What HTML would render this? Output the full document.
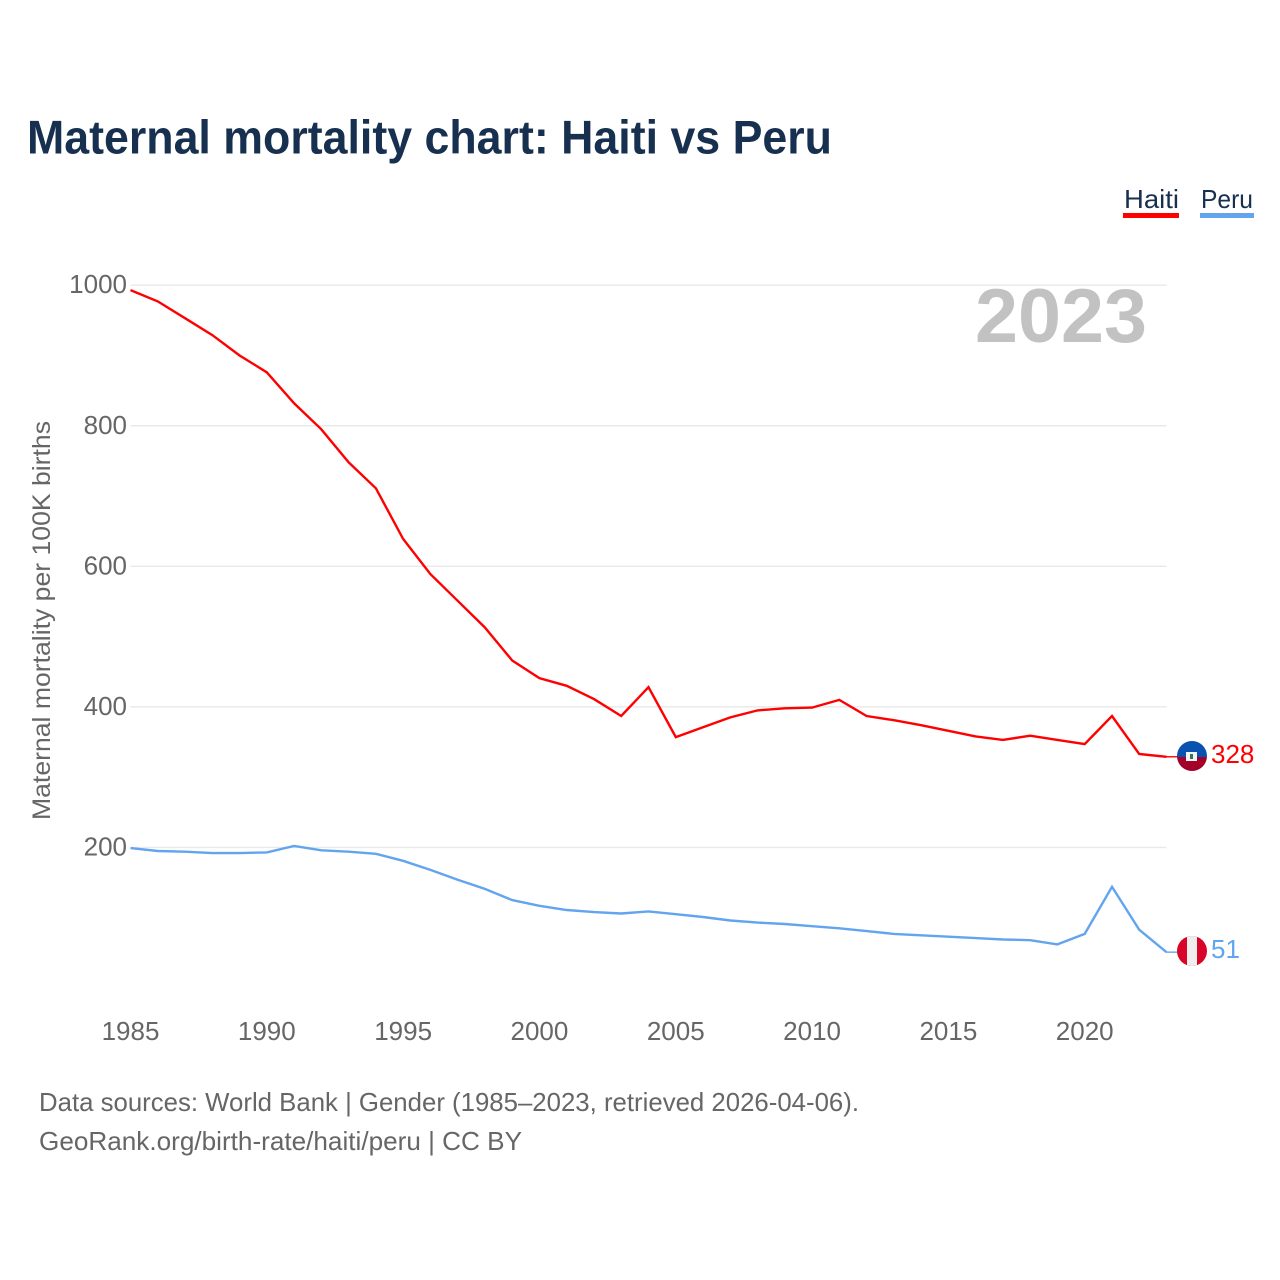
<!DOCTYPE html>
<html lang="en">
<head>
<meta charset="utf-8">
<title>Maternal mortality chart: Haiti vs Peru</title>
<style>
html,body{margin:0;padding:0;background:#fff;width:1280px;height:1280px;overflow:hidden}
svg{display:block;font-family:"Liberation Sans",sans-serif}
</style>
</head>
<body>
<svg id="chart" width="1280" height="1280" viewBox="0 0 1280 1280" xmlns="http://www.w3.org/2000/svg">
  <text x="27" y="153.5" font-size="47" font-weight="700" fill="#17304f" textLength="805" lengthAdjust="spacingAndGlyphs">Maternal mortality chart: Haiti vs Peru</text>

  <g>
    <text x="1124" y="208" font-size="26" fill="#17304f" textLength="55" lengthAdjust="spacingAndGlyphs">Haiti</text>
    <rect x="1123" y="213" width="56" height="5" fill="#ff0000"/>
  </g>
  <g>
    <text x="1201" y="208" font-size="26" fill="#17304f" textLength="52" lengthAdjust="spacingAndGlyphs">Peru</text>
    <rect x="1200" y="213" width="54" height="5" fill="#62a5ee"/>
  </g>

  <g id="grid"></g>
  <g id="yticks"></g>
  <g id="xticks"></g>

  <text transform="translate(50,820) rotate(-90)" font-size="25" fill="#666666" textLength="399" lengthAdjust="spacingAndGlyphs">Maternal mortality per 100K births</text>

  <text x="975" y="342" font-size="76" font-weight="700" fill="#c2c2c2" textLength="172" lengthAdjust="spacingAndGlyphs">2023</text>

  <g id="series"></g>

  <defs>
    <clipPath id="flag-clip-haiti"><circle cx="1192" cy="756" r="15"/></clipPath>
    <clipPath id="flag-clip-peru"><circle cx="1192" cy="951" r="15"/></clipPath>
  </defs>

  <g clip-path="url(#flag-clip-haiti)">
    <rect x="1177" y="741" width="30" height="16" fill="#0a52b0"/>
    <rect x="1177" y="757" width="30" height="15" fill="#a3002a"/>
    <rect x="1186" y="752" width="11" height="9" fill="#f4f4f4"/>
    <rect x="1190" y="754" width="3" height="5" fill="#2f7a4f"/>
  </g>
  <g clip-path="url(#flag-clip-peru)">
    <rect x="1177" y="936" width="30" height="30" fill="#d90429"/>
    <rect x="1187" y="936" width="10" height="30" fill="#eeeeee"/>
  </g>

  <text x="1211" y="763" font-size="26" fill="#ff0000">328</text>
  <text x="1211" y="958" font-size="26" fill="#62a5ee">51</text>

  <text x="39" y="1111" font-size="26" fill="#666666" textLength="820" lengthAdjust="spacingAndGlyphs">Data sources: World Bank | Gender (1985–2023, retrieved 2026-04-06).</text>
  <text x="39" y="1150" font-size="26" fill="#666666" textLength="483" lengthAdjust="spacingAndGlyphs">GeoRank.org/birth-rate/haiti/peru | CC BY</text>
</svg>
<script>
const years = [1985,1986,1987,1988,1989,1990,1991,1992,1993,1994,1995,1996,1997,1998,1999,2000,2001,2002,2003,2004,2005,2006,2007,2008,2009,2010,2011,2012,2013,2014,2015,2016,2017,2018,2019,2020,2021,2022,2023];
const haitiValues = [993,977,953,929,900,876,832,795,748,711,639,589,551,513,466,441,430,411,387,428,357,371,385,395,398,399,410,387,381,374,366,358,353,359,353,347,387,333,329];
const peruValues = [199,195,194,192,192,193,202,196,194,191,181,168,154,141,125,117,111,108,106,109,105,101,96,93,91,88,85,81,77,75,73,71,69,68,62,77,144,83,51];
const yTickValues = [200,400,600,800,1000];
const xTickYears = [1985,1990,1995,2000,2005,2010,2015,2020];

const NS = 'http://www.w3.org/2000/svg';
const xScale = function (year) { return 130.5 + (year - 1985) * (1166.5 - 130.5) / 38; };
const yScale = function (value) { return 988 - value * 0.7028; };

const grid = document.getElementById('grid');
const yTicks = document.getElementById('yticks');
yTickValues.forEach(function (v) {
  const line = document.createElementNS(NS, 'line');
  
  
  line.setAttribute('x1', xScale(1985));
  line.setAttribute('x2', xScale(2023));
  line.setAttribute('y1', yScale(v));
  line.setAttribute('y2', yScale(v));
  line.setAttribute('stroke', '#e9e9e9');
  line.setAttribute('stroke-width', '1.4');
  grid.appendChild(line);

  const label = document.createElementNS(NS, 'text');
  
  
  label.setAttribute('x', 127);
  label.setAttribute('y', yScale(v) + 8);
  label.setAttribute('text-anchor', 'end');
  label.setAttribute('font-size', '26');
  label.setAttribute('fill', '#666666');
  label.textContent = v;
  yTicks.appendChild(label);
});

const xTicks = document.getElementById('xticks');
xTickYears.forEach(function (y) {
  const label = document.createElementNS(NS, 'text');
  
  
  label.setAttribute('x', xScale(y));
  label.setAttribute('y', 1040);
  label.setAttribute('text-anchor', 'middle');
  label.setAttribute('font-size', '26');
  label.setAttribute('fill', '#666666');
  label.textContent = y;
  xTicks.appendChild(label);
});

const seriesGroup = document.getElementById('series');
function drawSeries(values, color, name) {
  const pts = values.map(function (v, i) { return xScale(years[i]).toFixed(1) + ',' + yScale(v).toFixed(1); });
  const line = document.createElementNS(NS, 'polyline');
  
  
  line.setAttribute('points', pts.join(' '));
  line.setAttribute('fill', 'none');
  line.setAttribute('stroke', color);
  line.setAttribute('stroke-width', '2.4');
  line.setAttribute('stroke-linejoin', 'miter');
  seriesGroup.appendChild(line);

  const lastY = yScale(values[values.length - 1]);
  const connector = document.createElementNS(NS, 'line');
  
  
  connector.setAttribute('x1', xScale(2023));
  connector.setAttribute('x2', 1178);
  connector.setAttribute('y1', lastY);
  connector.setAttribute('y2', lastY);
  connector.setAttribute('stroke', color);
  connector.setAttribute('stroke-width', '1.4');
  seriesGroup.appendChild(connector);
}
drawSeries(haitiValues, '#ff0000', 'haiti');
drawSeries(peruValues, '#62a5ee', 'peru');
</script>
</body>
</html>
